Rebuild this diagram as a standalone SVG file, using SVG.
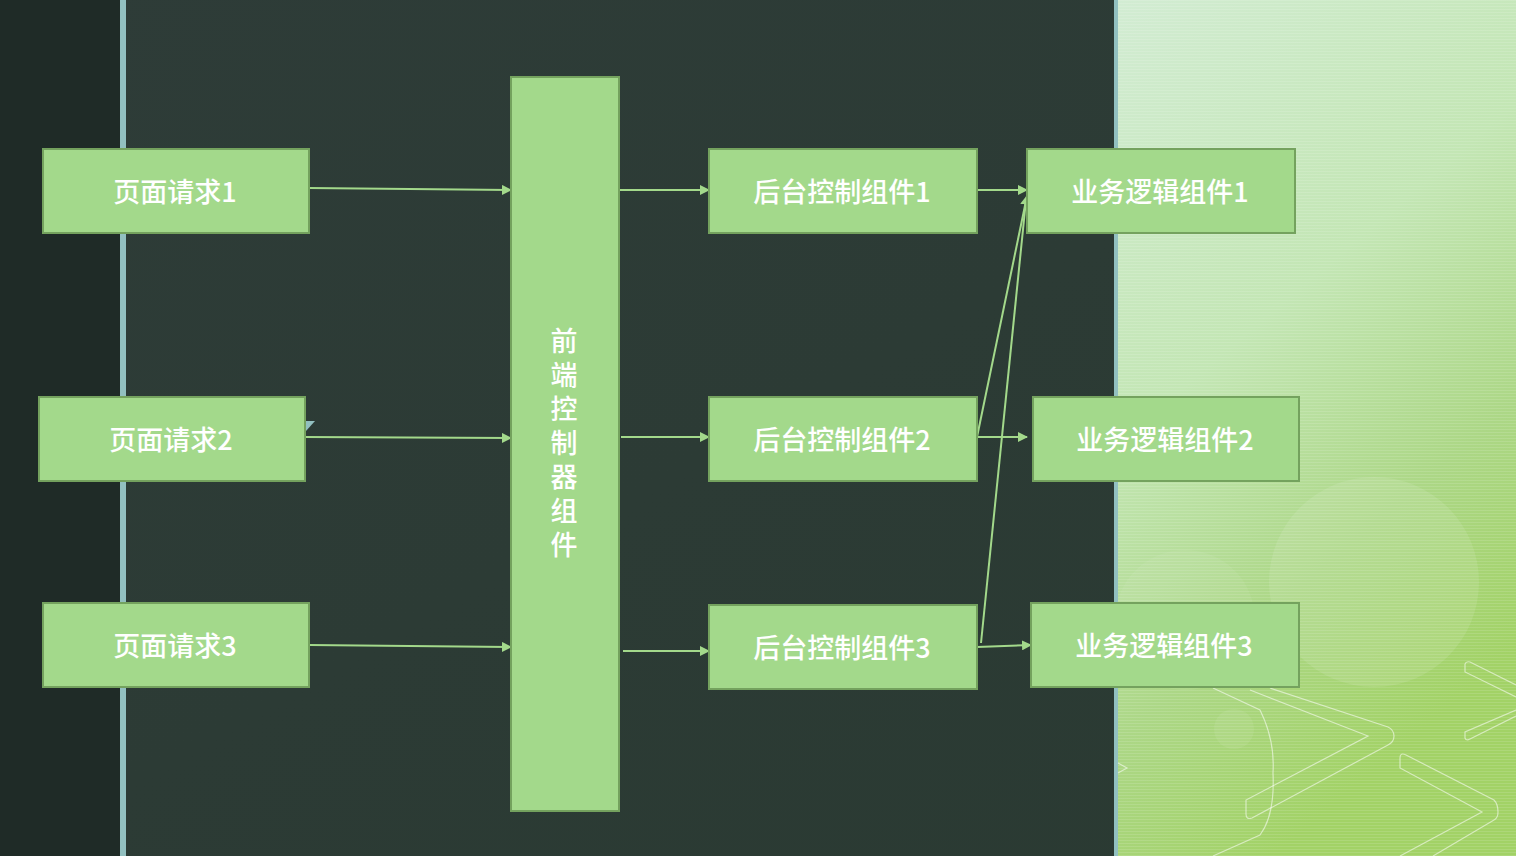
<svg xmlns="http://www.w3.org/2000/svg" width="1516" height="856" viewBox="0 0 1516 856">
<defs>
<style>
.box{fill:#a3d98b;stroke:#74a25e;stroke-width:2}
.lbl{font-family:"Microsoft YaHei","Noto Sans CJK SC","Liberation Sans",sans-serif;font-size:27px;font-weight:500;fill:#ffffff;text-anchor:middle;dominant-baseline:central}
.vert{font-family:"Microsoft YaHei","Noto Sans CJK SC","Liberation Sans",sans-serif;font-size:27px;font-weight:500;fill:#ffffff;writing-mode:vertical-rl;text-orientation:upright;letter-spacing:7px;text-anchor:start}
.conn{stroke:#a3d98b;stroke-width:2;fill:none}
.deco{fill:none;stroke:#ffffff;stroke-opacity:0.55;stroke-width:1.2}
</style>
<marker id="arr" viewBox="0 0 10 10" refX="9" refY="5" markerWidth="10" markerHeight="10" markerUnits="userSpaceOnUse" orient="auto">
<path d="M0,0 L10,5 L0,10 z" fill="#a3d98b"/>
</marker>
<linearGradient id="dark" x1="0" y1="0" x2="1" y2="1">
<stop offset="0" stop-color="#2e3c38"/>
<stop offset="1" stop-color="#2a3a32"/>
</linearGradient>
<linearGradient id="light" x1="0" y1="0" x2="0.4" y2="1">
<stop offset="0" stop-color="#d2ecd3"/>
<stop offset="0.45" stop-color="#c3e6b4"/>
<stop offset="0.75" stop-color="#acd786"/>
<stop offset="1" stop-color="#a2d266"/>
</linearGradient>
<pattern id="stripes" width="4" height="3" patternUnits="userSpaceOnUse">
<rect x="0" y="0" width="4" height="1" fill="#ffffff" fill-opacity="0.12"/>
</pattern>
</defs>
<g id="background">
<rect x="0" y="0" width="1516" height="856" fill="url(#dark)"/>
<rect x="0" y="0" width="120" height="856" fill="#1f2b27"/>
<rect x="120" y="0" width="6" height="856" fill="#92c0c0"/>
<rect x="1114" y="0" width="402" height="856" fill="url(#light)"/>
<rect x="1114" y="0" width="402" height="856" fill="url(#stripes)"/>
<rect x="1114" y="0" width="4" height="856" fill="#92c0c0"/>
<circle cx="1374" cy="582" r="105" fill="#ffffff" fill-opacity="0.1"/>
<circle cx="1185" cy="620" r="70" fill="#ffffff" fill-opacity="0.06"/>
<circle cx="1234" cy="729" r="20" fill="#ffffff" fill-opacity="0.07"/>
<path class="deco" d="M1270,688 L1388,727 Q1394,730 1394,736 Q1394,742 1388,745 L1252,818 Q1246,820 1246,814 L1246,800 L1368,736 L1250,690"/>
<path class="deco" d="M1213,688 L1260,710 Q1275,740 1273,773 Q1275,815 1260,835 L1213,856"/>
<path class="deco" d="M1400,758 L1400,768 L1482,812 L1400,856 M1400,758 Q1400,752 1406,755 L1494,800 Q1498,804 1498,812 Q1498,818 1494,820 L1433,856"/>
<path class="deco" d="M1465,664 L1465,672 L1516,697 M1465,664 Q1466,661 1470,662 L1516,685 M1516,710 L1465,732 L1465,738 Q1466,741 1470,739 L1516,716"/>
<path class="deco" d="M1118,763 L1127,768 L1118,773"/>
<polygon points="306,431 315,421 306,421" fill="#92c0c0"/>
</g>
<g id="connectors">
<line class="conn" x1="309" y1="188" x2="511" y2="190" marker-end="url(#arr)"/>
<line class="conn" x1="305" y1="437" x2="511" y2="438" marker-end="url(#arr)"/>
<line class="conn" x1="309" y1="645" x2="511" y2="647" marker-end="url(#arr)"/>
<line class="conn" x1="619" y1="190" x2="709" y2="190" marker-end="url(#arr)"/>
<line class="conn" x1="621" y1="437" x2="709" y2="437" marker-end="url(#arr)"/>
<line class="conn" x1="623" y1="651" x2="709" y2="651" marker-end="url(#arr)"/>
<line class="conn" x1="977" y1="190" x2="1027" y2="190" marker-end="url(#arr)"/>
<line class="conn" x1="977" y1="437" x2="1027" y2="437" marker-end="url(#arr)"/>
<line class="conn" x1="977" y1="647" x2="1031" y2="645" marker-end="url(#arr)"/>
<line class="conn" x1="977" y1="437" x2="1027" y2="196" marker-end="url(#arr)"/>
<line class="conn" x1="981" y1="643" x2="1026" y2="200"/>
</g>
<g id="n-page1"><rect class="box" x="43" y="149" width="266" height="84"/><text class="lbl" x="175" y="190">页面请求1</text></g>
<g id="n-page2"><rect class="box" x="39" y="397" width="266" height="84"/><text class="lbl" x="171" y="438">页面请求2</text></g>
<g id="n-page3"><rect class="box" x="43" y="603" width="266" height="84"/><text class="lbl" x="175" y="644">页面请求3</text></g>
<g id="n-front"><rect class="box" x="511" y="77" width="108" height="734"/>
<text class="vert" x="564" y="327">前端控制器组件</text></g>
<g id="n-back1"><rect class="box" x="709" y="149" width="268" height="84"/><text class="lbl" x="842" y="190">后台控制组件1</text></g>
<g id="n-back2"><rect class="box" x="709" y="397" width="268" height="84"/><text class="lbl" x="842" y="438">后台控制组件2</text></g>
<g id="n-back3"><rect class="box" x="709" y="605" width="268" height="84"/><text class="lbl" x="842" y="646">后台控制组件3</text></g>
<g id="n-biz1"><rect class="box" x="1027" y="149" width="268" height="84"/><text class="lbl" x="1160" y="190">业务逻辑组件1</text></g>
<g id="n-biz2"><rect class="box" x="1033" y="397" width="266" height="84"/><text class="lbl" x="1165" y="438">业务逻辑组件2</text></g>
<g id="n-biz3"><rect class="box" x="1031" y="603" width="268" height="84"/><text class="lbl" x="1164" y="644">业务逻辑组件3</text></g>
</svg>
